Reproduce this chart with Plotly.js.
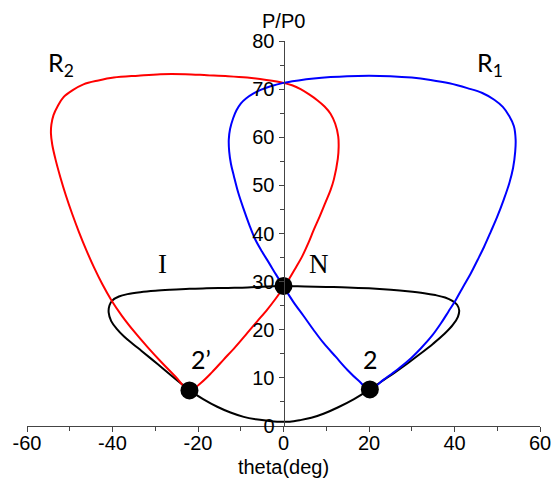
<!DOCTYPE html>
<html>
<head>
<meta charset="utf-8">
<script src="https://cdn.plot.ly/plotly-3.0.1.min.js"></script>
<style>html,body{margin:0;padding:0;background:#fff;}#chart{width:551px;height:479px;}</style>
</head>
<body>
<div id="chart"></div>
<script>
// R2 (red) curve: theta (deg), P/P0
const r2Theta = [-22,-25.3,-28.6,-31.8,-34.9,-37.8,-40.3,-42.4,-44.3,-46.1,-47.8,-49.4,-50.9,-52.2,-53.3,-54.1,-54.4,-54.3,-53.8,-52.8,-51.5,-49.3,-46.8,-43.3,-39.7,-34,-28.8,-23,-17.9,-13,-8.5,-4,0,2,4,6,7.9,9.6,11,12.1,12.8,12.9,12.7,11.8,11,9.8,8.5,7.1,5.8,4.4,2.8,1.2,0,-1.8,-3.8,-6.2,-8.5,-11.2,-14,-16.7,-19.4,-22];
const r2P     = [7.4,10.3,13.3,16.4,19.6,22.9,26.2,29.5,32.9,36.5,40.2,44,47.9,51.7,55.3,58.5,60.8,62.6,64.6,66.5,68.3,69.8,71,71.8,72.4,72.8,73.1,73.1,72.9,72.7,72.4,71.9,71.3,70.8,70,68.9,67.7,66.4,64.9,62.8,60.2,58,55.5,51.3,49,46.4,43.6,40.8,38,35.3,32.8,30.4,28.8,26.5,24.2,21.7,19.3,16.5,13.8,11.2,8.9,7.4];

// R1 (blue) curve
const r1Theta = [20.2,23.5,26.6,29.5,32.1,34.6,36.8,38.6,40.3,42,43.8,45.4,46.9,48.5,50,51.5,52.8,53.7,54.2,54.3,53.9,52.8,51.3,49.3,46.5,43,38.8,34.4,30,25,20,14.9,11,7.1,3.5,0,-3,-5.2,-7,-8.7,-10,-11,-11.8,-12.5,-12.8,-12.7,-12.3,-11.6,-10.6,-9.3,-8,-6.6,-5,-3.4,-1.7,0,2.3,4.75,7,9.4,12.2,14.9,17.6,20.2];
const r1P     = [7.6,9.7,11.7,13.8,16.1,18.6,21.3,23.8,26.2,28.9,31.7,34.5,37.2,40.4,43.5,47,50.4,53.6,57,59.5,62.3,64.4,66.3,67.8,69.2,70.2,71.2,71.9,72.4,72.7,72.8,72.7,72.5,72.2,71.8,71.3,70.6,69.9,69.1,68.1,67,65.6,63.9,61.7,59.5,57,54.5,51.9,48.5,45,41.8,38.75,36.2,33.9,31.4,29,25.8,22.8,20,17.2,14.4,11.7,9.4,7.6];

// I (black) curve
const iTheta = [0,-4,-8.4,-13,-18,-22,-26.5,-30,-33.5,-36.5,-38.5,-40,-40.7,-40.9,-40.3,-39,-37.3,-35.3,-33.2,-31,-28.7,-26.4,-24.2,-22,-18.8,-15.5,-12.4,-9.3,-6.5,-3.8,-1.5,0,1.5,3.8,6.5,9.5,12.8,16.5,20.2,23,26,29,32,35,37.6,39.6,40.8,41.1,40.6,39.5,37.8,35.5,32.9,29,25.1,20,15,10,5,0];
const iP     = [29.1,29,28.8,28.7,28.6,28.5,28.3,28.1,27.8,27.4,26.9,26.1,25.1,23.6,21.8,20.2,18.6,17.1,15.6,14,12.3,10.6,9,7.4,5.6,4,2.8,1.9,1.4,1.1,0.9,0.9,0.9,1.2,1.7,2.6,3.9,5.6,7.6,9.3,11.1,13,15,17.1,19.1,21,22.7,24,25.2,26,26.7,27.2,27.6,28,28.3,28.6,28.8,28.9,29,29.1];

// marked points: 2', N, 2
const ptTheta = [-22, 0, 20.2];
const ptP     = [7.4, 29.1, 7.6];

// axis ticks
const xTicks = [-60,-40,-20,0,20,40,60];
const yTicks = [0,10,20,30,40,50,60,70,80];

const lineStyle = (c) => ({color: c, width: 2, shape: 'spline', smoothing: 1});

const traces = [
  {x: iTheta, y: iP, mode: 'lines', line: lineStyle('#000000'), hoverinfo: 'skip'},
  {x: r2Theta, y: r2P, mode: 'lines', line: lineStyle('#ff0000'), hoverinfo: 'skip'},
  {x: r1Theta, y: r1P, mode: 'lines', line: lineStyle('#0000ff'), hoverinfo: 'skip'},
  {x: ptTheta, y: ptP, mode: 'markers', marker: {color: '#000', size: 18}, hoverinfo: 'skip'}
];

const tickFont = {family: '"Liberation Sans", Arial, sans-serif', size: 20, color: '#000'};
const labelSans = {family: 'Lato, "Noto Sans", sans-serif', size: 25, color: '#000'};
const labelSerif = {family: '"Liberation Serif", "Times New Roman", serif', size: 27, color: '#000'};
const ptFont = {family: 'Lato, "Noto Sans", sans-serif', size: 25, color: '#000'};

const layout = {
  width: 551, height: 479,
  margin: {l: 27, r: 11, t: 41, b: 53, pad: 0},
  paper_bgcolor: '#fff', plot_bgcolor: '#fff',
  showlegend: false,
  xaxis: {
    range: [-60, 60], tickvals: xTicks, ticktext: xTicks.map(String),
    showline: true, linecolor: '#444', linewidth: 1,
    ticks: 'outside', ticklen: 5, tickcolor: '#444',
    ticklabelstandoff: -6, ticklabeloverflow: 'allow',
    minor: {dtick: 10, ticks: 'outside', ticklen: 4, tickcolor: '#444', showgrid: false},
    showgrid: false, zeroline: false, tickfont: tickFont,
    title: {text: 'theta(deg)', font: tickFont, standoff: 6}
  },
  yaxis: {
    range: [0, 80], tickvals: yTicks, ticktext: yTicks.map(String),
    anchor: 'free', position: 0.5,
    showline: true, linecolor: '#444', linewidth: 1,
    ticks: 'outside', ticklen: 5, tickcolor: '#444',
    minor: {dtick: 5, ticks: 'outside', ticklen: 4, tickcolor: '#444', showgrid: false},
    showgrid: false, zeroline: false, tickfont: tickFont
  },
  annotations: [
    {x: 0, y: 80, xref: 'x', yref: 'y', text: 'P/P0', showarrow: false, yanchor: 'bottom', yshift: 7, font: tickFont},
    {x: -52.1, y: 75.2, xref: 'x', yref: 'y', text: 'R<sub>2</sub>', showarrow: false, font: labelSans},
    {x: 48.3, y: 75.2, xref: 'x', yref: 'y', text: 'R<sub>1</sub>', showarrow: false, font: labelSans},
    {x: -28.3, y: 33.6, xref: 'x', yref: 'y', text: 'I', showarrow: false, font: labelSerif},
    {x: 8.4, y: 33.6, xref: 'x', yref: 'y', text: 'N', showarrow: false, font: labelSerif},
    {x: -19.2, y: 14, xref: 'x', yref: 'y', text: '2\u2019', showarrow: false, font: ptFont},
    {x: 20.4, y: 14, xref: 'x', yref: 'y', text: '2', showarrow: false, font: ptFont}
  ]
};

Plotly.newPlot('chart', traces, layout, {displayModeBar: false, staticPlot: true});
</script>
</body>
</html>
